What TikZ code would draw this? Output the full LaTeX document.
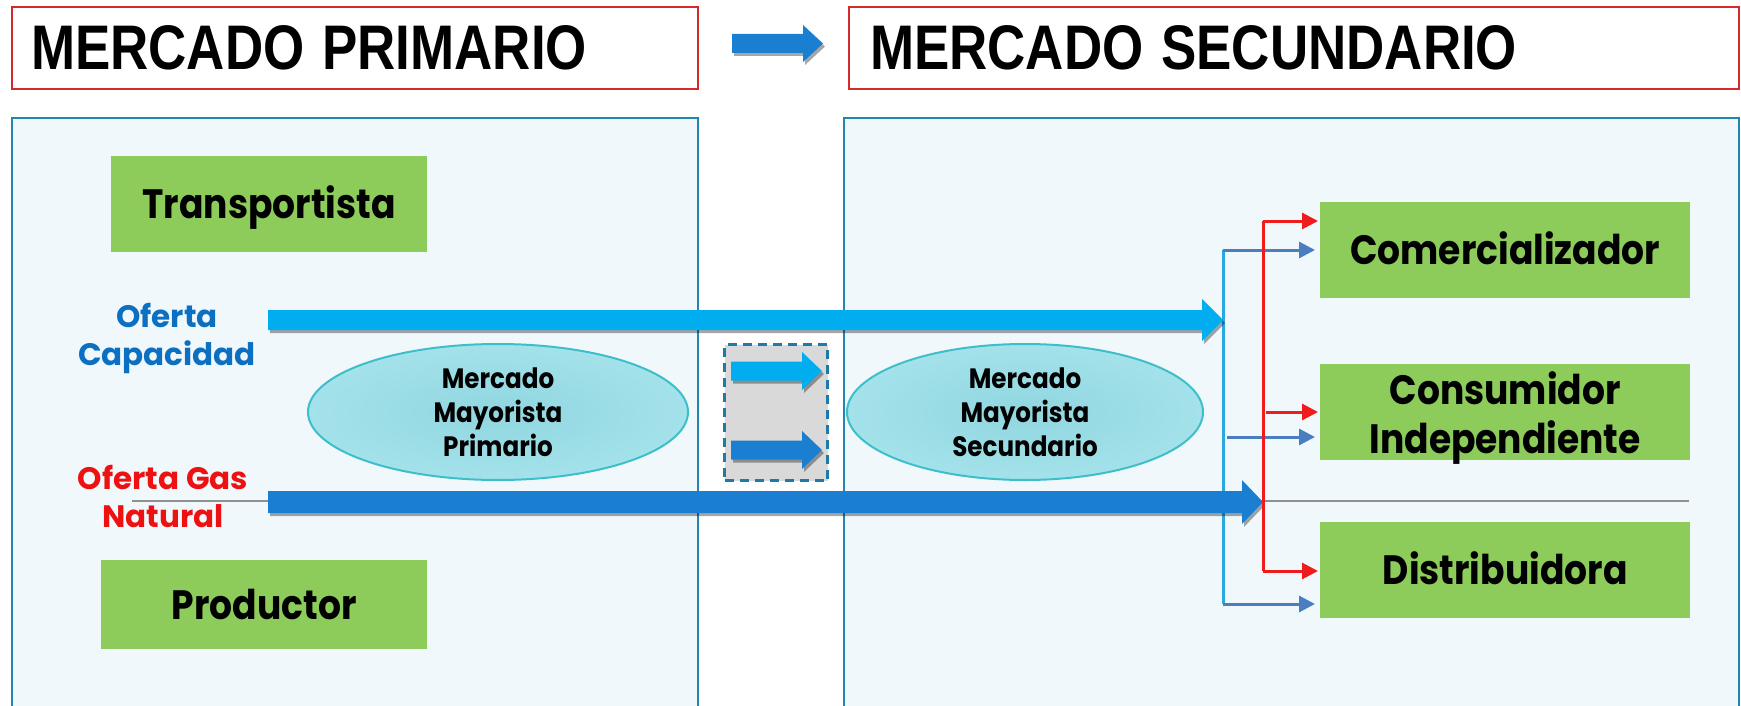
\documentclass[tikz,border=0pt]{standalone}
\usepackage{fontspec}
\setmainfont{Poppins}[FakeStretch=0.88]
\newfontfamily\ofertafont{Poppins}
\newfontfamily\titulofont{Liberation Sans}[FakeStretch=0.84]
\usetikzlibrary{shapes.geometric,shadows,calc,arrows.meta}

\definecolor{panelFondo}{HTML}{F0F8FC}
\definecolor{panelBorde}{HTML}{2286B0}
\definecolor{rojoTitulo}{HTML}{D42A2A}
\definecolor{verdeCaja}{HTML}{8DCC5A}
\definecolor{elipseFondo}{HTML}{A4E2EA}
\definecolor{elipseCentro}{HTML}{90D6E0}
\definecolor{elipseBorde}{HTML}{3DBFCB}
\definecolor{cianFlecha}{HTML}{00AEEF}
\definecolor{azulFlecha}{HTML}{1A7FD0}
\definecolor{cianLinea}{HTML}{2AA8E0}
\definecolor{aceroFlecha}{HTML}{4A7EC0}
\definecolor{rojoLinea}{HTML}{EE1C1C}
\definecolor{textoAzul}{HTML}{0B6FC2}
\definecolor{textoRojo}{HTML}{EE1111}
\definecolor{grisLinea}{HTML}{909090}
\definecolor{grisCaja}{HTML}{D9D9D9}
\definecolor{bordeGuiones}{HTML}{1F7AA8}

\newcommand{\flechaGorda}[6]{%
  \fill[#6] ($(#1)+(0,-#3)$) -- ($(#2)+(-#5,-#3)$) -- ($(#2)+(-#5,-#4)$) -- (#2)
    -- ($(#2)+(-#5,#4)$) -- ($(#2)+(-#5,#3)$) -- ($(#1)+(0,#3)$) -- cycle;}

\tikzset{
  titulo/.style={draw=rojoTitulo, line width=2pt, fill=white, anchor=north west,
    minimum height=82pt, align=left, font=\titulofont\bfseries\fontsize{63}{70}\selectfont},
  panel/.style={draw=panelBorde, line width=2pt, fill=panelFondo, anchor=north west},
  caja/.style={fill=verdeCaja, anchor=north west, inner sep=0pt, align=center,
    font=\bfseries\fontsize{41}{49}\selectfont},
  unaLinea/.style={text height=29pt, text depth=0pt},
  mercado/.style={ellipse, draw=elipseBorde, line width=2pt, inner color=elipseCentro,
    outer color=elipseFondo, minimum height=136pt, inner sep=0pt, align=center,
    font=\bfseries\fontsize{28}{34}\selectfont},
  oferta/.style={align=center, inner sep=0pt, font=\ofertafont\bfseries\fontsize{31}{38}\selectfont},
  sombra/.style={drop shadow={shadow xshift=2pt, shadow yshift=-3pt, opacity=.35, fill=black}},
  flechaRoja/.style={draw=rojoLinea, line width=3pt, -{Triangle[length=16pt,width=16pt]}},
  flechaAcero/.style={draw=aceroFlecha, line width=3pt, -{Triangle[length=16pt,width=16pt]}}
}

\begin{document}
\begin{tikzpicture}[x=1pt,y=-1pt]
  \useasboundingbox[fill=white] (0,0) rectangle (1741,706);

  \node[titulo, text width=648pt, inner xsep=19pt] (tituloPrim) at (11,6) {MERCADO\hspace{18pt}PRIMARIO};
  \node[titulo, text width=848pt, inner xsep=21pt] (tituloSec) at (848,6) {MERCADO\hspace{18pt}SECUNDARIO};

  \node[panel, minimum width=686pt, minimum height=600pt] (panelPrim) at (11,117) {};
  \node[panel, minimum width=895pt, minimum height=600pt] (panelSec) at (843,117) {};

  \coordinate (grisIni) at (132,501);
  \coordinate (grisFin) at (1689,501);
  \draw[grisLinea, line width=1.5pt] (grisIni) -- (grisFin);

  \node[mercado, minimum width=380pt] (mmPrim) at (498,412) {Mercado\\Mayorista\\Primario};
  \node[mercado, minimum width=356pt] (mmSec) at (1025,412) {Mercado\\Mayorista\\Secundario};

  \node[fill=grisCaja, draw=bordeGuiones, line width=3pt, dash pattern=on 9pt off 6pt,
    minimum width=103pt, minimum height=136pt, anchor=north west] (cambio) at (723,343) {};

  \coordinate (azulTop) at (1223,250);
  \coordinate (azulBot) at (1223,604);
  \coordinate (azulMid) at (1227,437);
  \coordinate (rojoTop) at (1263,221);
  \coordinate (rojoBot) at (1263,571);
  \coordinate (rojoMid) at (1266,412);
  \draw[cianLinea, line width=3pt] (azulTop) -- (azulBot);

  \coordinate (capIni) at (268,320);
  \coordinate (capFin) at (1223,320);
  \coordinate (gasIni) at (268,502);
  \coordinate (gasFin) at (1263,502);
  \flechaGorda{capIni}{capFin}{10}{21}{21}{cianFlecha, sombra}
  \flechaGorda{gasIni}{gasFin}{11}{22}{21}{azulFlecha, sombra}

  \coordinate (cajaCapIni) at (731,371);
  \coordinate (cajaCapFin) at (822,371);
  \coordinate (cajaGasIni) at (731,450);
  \coordinate (cajaGasFin) at (822,450);
  \flechaGorda{cajaCapIni}{cajaCapFin}{9.5}{19}{20}{cianFlecha, sombra}
  \flechaGorda{cajaGasIni}{cajaGasFin}{9.5}{19}{20}{azulFlecha, sombra}

  \coordinate (titIni) at (732,43.5);
  \coordinate (titFin) at (823,43.5);
  \flechaGorda{titIni}{titFin}{9.5}{18.5}{20}{azulFlecha, sombra}

  \node[oferta, text=textoAzul] (ofCap) at (167,338) {Oferta\\Capacidad};
  \node[oferta, text=textoRojo] (ofGas) at (163,496) {Oferta Gas\\Natural};

  \node[caja, unaLinea, minimum width=316pt, minimum height=96pt] (transp) at (111,156) {Transportista};
  \node[caja, unaLinea, minimum width=326pt, minimum height=89pt] (prod) at (101,560) {Productor};
  \node[caja, unaLinea, minimum width=370pt, minimum height=96pt] (comer) at (1320,202) {Comercializador};
  \node[caja, minimum width=370pt, minimum height=96pt] (consu) at (1320,364) {};
  \node[caja, fill=none, anchor=center] (consuTexto) at ([yshift=-6pt]consu.center) {Consumidor\\Independiente};
  \node[caja, unaLinea, minimum width=370pt, minimum height=96pt] (distri) at (1320,522) {Distribuidora};

  \draw[flechaAcero] (azulTop) -- ([xshift=-5pt]azulTop -| comer.west);
  \draw[flechaAcero] (azulMid) -- ([xshift=-5pt]azulMid -| consu.west);
  \draw[flechaAcero] (azulBot) -- ([xshift=-5pt]azulBot -| distri.west);

  \draw[rojoLinea, line width=3pt] (rojoTop) -- (rojoBot);
  \draw[flechaRoja] (rojoTop) -- ([xshift=-2pt]rojoTop -| comer.west);
  \draw[flechaRoja] (rojoMid) -- ([xshift=-2pt]rojoMid -| consu.west);
  \draw[flechaRoja] (rojoBot) -- ([xshift=-2pt]rojoBot -| distri.west);
\end{tikzpicture}
\end{document}
